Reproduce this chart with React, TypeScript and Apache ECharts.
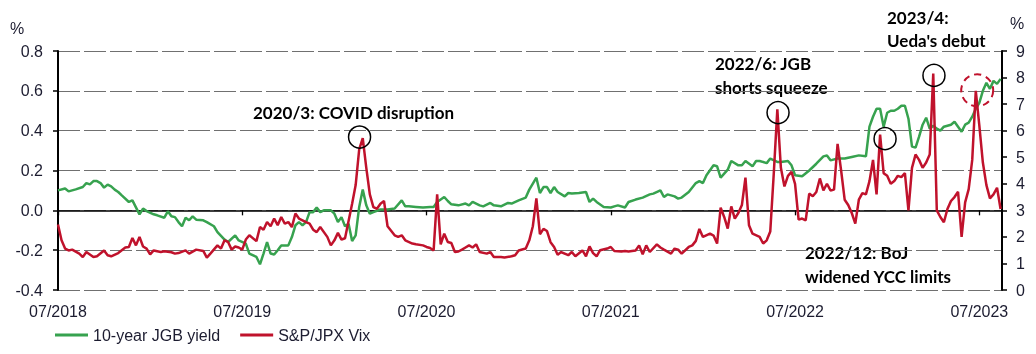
import React, { useEffect, useRef } from "react";
import * as echarts from "echarts";

// x unit: weeks after early July 2018 (52 per year)
const yearTicks = [0, 52, 104, 156, 208, 260];
const yearLabels = ["07/2018", "07/2019", "07/2020", "07/2021", "07/2022", "07/2023"];

const jgbWeeks = [
  0, 2, 3, 5, 7, 8, 9, 10, 11, 12, 13, 14, 15, 16, 17, 18, 20, 21, 23, 24, 25, 27, 28, 30, 31, 32, 33, 34, 35, 36,
  37, 38, 39, 41, 42, 44, 45, 47, 48, 50, 51, 53, 54, 56, 57, 58, 59, 60, 61, 62, 63, 65, 66, 67, 68, 69, 70, 71, 72,
  73, 74, 75, 77, 78, 79, 80, 81, 82, 83, 84, 85, 86, 87, 88, 89, 91, 93, 95, 97, 98, 99, 101, 103, 105, 106, 107, 109,
  110, 111, 113, 115, 116, 117, 119, 120, 122, 123, 125, 127, 128, 130, 132, 133, 135, 136, 137, 138, 139, 140, 141,
  143, 144, 145, 147, 149, 150, 151, 152, 154, 156, 157, 158, 160, 161, 163, 165, 167, 168, 170, 171, 172, 174, 175,
  176, 178, 180, 181, 182, 183, 185, 186, 187, 189, 190, 192, 193, 194, 196, 197, 198, 200, 201, 203, 204, 206, 207,
  208, 210, 212, 214, 216, 217, 218, 220, 222, 224, 226, 228, 229, 230, 231, 232, 233, 234, 235, 236, 237, 238, 239,
  240, 241, 242, 243, 244, 245, 246, 247, 248, 249, 250, 251, 252, 253, 254, 255, 256, 257, 258, 259, 260, 261, 262,
  263, 264, 265, 266,
];
const jgbYield = [
  0.1, 0.11, 0.095, 0.105, 0.117, 0.137, 0.13, 0.147, 0.147, 0.137, 0.114, 0.129, 0.12, 0.104, 0.092, 0.075, 0.042,
  0.05, -0.02, 0.009, -0.004, -0.02, -0.025, -0.037, -0.005, -0.03, -0.034, -0.059, -0.08, -0.037, -0.05, -0.03,
  -0.047, -0.05, -0.059, -0.08, -0.109, -0.147, -0.159, -0.126, -0.151, -0.167, -0.217, -0.234, -0.271, -0.217,
  -0.159, -0.217, -0.222, -0.2, -0.176, -0.176, -0.134, -0.075, -0.059, -0.075, -0.059, -0.009, -0.009, 0.014,
  -0.009, 0, 0, -0.017, -0.059, -0.034, -0.08, -0.067, -0.154, -0.126, 0.017, 0.104, 0.025, -0.017, -0.009, 0.004,
  0.004, 0.009, 0.05, 0.02, 0.02, 0.017, 0.014, 0.017, 0.017, 0.042, 0.067, 0.047, 0.03, 0.025, 0.034, 0.025, 0.042,
  0.025, 0.02, 0.037, 0.025, 0.02, 0.037, 0.034, 0.05, 0.064, 0.104, 0.164, 0.087, 0.117, 0.117, 0.087, 0.117, 0.092,
  0.07, 0.087, 0.084, 0.087, 0.092, 0.042, 0.059, 0.042, 0.017, 0.014, 0.02, 0.025, 0.014, 0.042, 0.054, 0.064, 0.08,
  0.084, 0.1, 0.067, 0.08, 0.07, 0.059, 0.064, 0.092, 0.137, 0.147, 0.137, 0.176, 0.226, 0.221, 0.164, 0.204, 0.248,
  0.226, 0.226, 0.248, 0.221, 0.248, 0.248, 0.237, 0.26, 0.243, 0.243, 0.248, 0.226, 0.176, 0.171, 0.2, 0.234, 0.271,
  0.275, 0.251, 0.26, 0.26, 0.268, 0.276, 0.271, 0.42, 0.47, 0.51, 0.51, 0.42, 0.49, 0.5, 0.5, 0.51, 0.525, 0.525,
  0.46, 0.32, 0.315, 0.37, 0.43, 0.465, 0.41, 0.425, 0.41, 0.4, 0.42, 0.425, 0.43, 0.445, 0.42, 0.395, 0.43, 0.44,
  0.47, 0.51, 0.54, 0.6, 0.64, 0.61, 0.65, 0.635, 0.66,
];

const vixWeeks = [
  0, 1, 2, 3, 4, 6, 7, 8, 10, 11, 13, 14, 15, 17, 19, 20, 21, 22, 23, 24, 25, 26, 27, 29, 30, 32, 33, 34, 36, 37, 39,
  41, 42, 43, 45, 46, 47, 48, 49, 50, 51, 52, 53, 54, 56, 57, 58, 59, 60, 61, 62, 63, 64, 65, 66, 67, 68, 70, 71, 72,
  73, 74, 76, 77, 78, 79, 80, 81, 82, 83, 84, 85, 86, 87, 88, 89, 90, 91, 92, 93, 95, 96, 97, 98, 100, 101, 103, 104,
  105, 106, 107, 108, 109, 110, 111, 112, 113, 114, 115, 116, 117, 118, 119, 121, 122, 123, 125, 126, 128, 129, 130,
  132, 133, 134, 135, 136, 137, 138, 139, 140, 141, 142, 144, 145, 146, 148, 149, 150, 151, 152, 153, 155, 156, 157,
  159, 160, 161, 163, 164, 165, 166, 167, 169, 170, 171, 173, 174, 175, 176, 178, 179, 180, 181, 182, 184, 185, 186,
  187, 188, 189, 190, 191, 192, 193, 194, 195, 196, 198, 199, 200, 201, 202, 203, 204, 205, 206, 207, 208, 209, 210,
  211, 212, 213, 214, 215, 216, 217, 218, 219, 220, 221, 222, 223, 224, 225, 226, 227, 228, 229, 230, 231, 232, 233,
  234, 235, 236, 237, 238, 239, 240, 241, 242, 243, 244, 245, 246, 247, 248, 249, 250, 251, 252, 253, 254, 255, 256,
  257, 258, 259, 260, 261, 262, 263, 264, 265, 266,
];
const vixLevel = [
  2.47, 1.87, 1.56, 1.49, 1.52, 1.37, 1.24, 1.43, 1.24, 1.27, 1.49, 1.31, 1.27, 1.39, 1.6, 1.62, 1.96, 1.68, 2.0, 1.64,
  1.56, 1.34, 1.49, 1.43, 1.46, 1.42, 1.37, 1.39, 1.49, 1.37, 1.52, 1.47, 1.22, 1.37, 1.68, 1.56, 1.87, 1.81, 1.52,
  1.64, 1.6, 1.52, 1.9, 2.06, 1.84, 2.37, 2.27, 2.56, 2.4, 2.69, 2.44, 2.75, 2.5, 2.56, 2.37, 2.88, 2.69, 2.56, 2.5,
  2.27, 2.18, 2.37, 2.0, 1.68, 1.87, 2.15, 1.9, 1.95, 2.6, 3.25, 3.95, 5.3, 5.72, 4.6, 3.6, 3.12, 3.06, 3.25, 3.35, 2.4,
  2.06, 2.0, 2.06, 1.87, 1.75, 1.72, 1.68, 1.62, 1.58, 1.49, 3.6, 1.72, 2.12, 1.81, 1.77, 1.43, 1.45, 1.52, 1.6, 1.68,
  1.6, 1.72, 1.43, 1.37, 1.43, 1.24, 1.24, 1.22, 1.27, 1.31, 1.49, 1.56, 1.87, 2.4, 3.45, 2.1, 2.3, 2.22, 1.8, 1.62,
  1.33, 1.43, 1.31, 1.43, 1.27, 1.49, 1.27, 1.64, 1.39, 1.27, 1.5, 1.56, 1.62, 1.47, 1.45, 1.47, 1.45, 1.49, 1.68,
  1.34, 1.68, 1.43, 1.72, 1.6, 1.52, 1.37, 1.56, 1.52, 1.37, 1.62, 1.68, 1.85, 2.3, 2.0, 2.12, 2.05, 1.75, 3.1, 2.75,
  2.31, 3.15, 2.69, 2.9, 3.2, 4.23, 2.44, 2.12, 2.0, 1.75, 1.87, 2.2, 4.4, 6.8, 4.6, 3.9, 4.3, 4.45, 4.0, 2.65, 2.69,
  2.62, 3.63, 3.53, 3.69, 4.2, 3.75, 4.0, 3.75, 3.78, 5.5, 4.5, 3.4, 3.2, 2.9, 2.5, 3.4, 3.65, 3.6, 4.1, 4.9, 3.6,
  5.85, 4.4, 4.3, 4.0, 4.1, 4.3, 4.25, 4.4, 3.0, 4.6, 5.1, 4.9, 4.6, 4.8, 5.1, 8.15, 3.0, 2.75, 2.55, 3.05, 3.35, 3.5,
  3.7, 2.0, 3.3, 3.8, 4.9, 7.5, 6.2, 4.8, 3.95, 3.45, 3.6, 3.85, 3.05,
];

// Event markers: [week, S&P/JPX Vix level]
const eventCircles = [
  [85.1, 5.76],
  [203.2, 6.68],
  [233.4, 5.7],
  [247.2, 8.08],
];
const uedaCircle = [259.4, 7.52];

const labelColor = "#1c1c30";
const tickFont = "'Liberation Sans', Arial, sans-serif";
const noteFont = "bold 17px Lato, 'Open Sans', sans-serif";

export default function App() {
  const ref = useRef<HTMLDivElement>(null);

  useEffect(() => {
    if (!ref.current) return;
    const chart = echarts.init(ref.current, undefined, { renderer: "svg" });
    const xMax = 266.4;
    const note = (text: string, x: number, y: number) => ({
      type: "text",
      x,
      y,
      style: { text, font: noteFont, fill: "#000", verticalAlign: "middle", align: "left" },
    });
    chart.setOption({
      animation: false,
      grid: { left: 58, right: 34, top: 51, bottom: 64, containLabel: false },
      legend: {
        left: 50,
        top: 322,
        itemWidth: 33,
        itemHeight: 3,
        itemGap: 20,
        icon: "rect",
        textStyle: { fontSize: 16, color: labelColor, fontFamily: tickFont },
        data: ["10-year JGB yield", "S&P/JPX Vix"],
      },
      xAxis: [
        {
          type: "value",
          min: 0,
          max: xMax,
          position: "bottom",
          axisLine: { show: false, onZero: false },
          axisTick: { show: false },
          splitLine: { show: false },
          axisLabel: {
            customValues: yearTicks,
            formatter: (v: number) => {
              const i = yearTicks.indexOf(Math.round(v));
              return i >= 0 ? yearLabels[i] : "";
            },
            fontSize: 16,
            color: labelColor,
            fontFamily: tickFont,
            margin: 13,
          },
        },
        {
          type: "value",
          min: 0,
          max: xMax,
          position: "top",
          axisLine: { show: true, onZero: true, onZeroAxisIndex: 0, lineStyle: { color: "#000", width: 1.5 } },
          axisTick: { show: true, inside: true, length: 5, customValues: yearTicks, lineStyle: { color: "#000", width: 1.3 } },
          axisLabel: { show: false },
          splitLine: { show: false },
        },
      ],
      yAxis: [
        {
          type: "value",
          min: -0.4,
          max: 0.8,
          interval: 0.2,
          position: "left",
          axisLine: { show: true, onZero: false, lineStyle: { color: "#000", width: 2 } },
          axisTick: { show: true, length: 5, lineStyle: { color: "#000", width: 1.5 } },
          axisLabel: {
            formatter: (v: number) => (Math.abs(v) < 1e-9 ? 0 : v).toFixed(1),
            fontSize: 16,
            color: labelColor,
            fontFamily: tickFont,
            margin: 15,
          },
          splitLine: { show: true, lineStyle: { color: "#707070", width: 1.2, type: [22, 4] } },
        },
        {
          type: "value",
          min: 0,
          max: 9,
          interval: 1,
          position: "right",
          axisLine: { show: true, onZero: false, lineStyle: { color: "#000", width: 2 } },
          axisTick: { show: true, length: 5, lineStyle: { color: "#000", width: 1.5 } },
          axisLabel: { fontSize: 16, color: labelColor, fontFamily: tickFont, margin: 14 },
          splitLine: { show: false },
        },
      ],
      series: [
        {
          name: "10-year JGB yield",
          type: "line",
          xAxisIndex: 0,
          yAxisIndex: 0,
          showSymbol: false,
          color: "#37a24f",
          lineStyle: { width: 2.5, color: "#37a24f" },
          data: jgbWeeks.map((w, i) => [w, jgbYield[i]]),
        },
        {
          name: "S&P/JPX Vix",
          type: "line",
          xAxisIndex: 0,
          yAxisIndex: 1,
          showSymbol: false,
          color: "#c0122c",
          lineStyle: { width: 2.5, color: "#c0122c" },
          data: vixWeeks.map((w, i) => [w, vixLevel[i]]),
          markPoint: {
            silent: true,
            label: { show: false },
            data: [
              ...eventCircles.map((c) => ({
                coord: c,
                symbol: "circle",
                symbolSize: 22,
                itemStyle: { color: "rgba(0,0,0,0)", borderColor: "#000", borderWidth: 1.5 },
              })),
              {
                coord: uedaCircle,
                symbol: "circle",
                symbolSize: 32,
                itemStyle: { color: "rgba(0,0,0,0)", borderColor: "#c0122c", borderWidth: 2, borderType: [7, 5] },
              },
            ],
          },
        },
      ],
      graphic: [
        { type: "text", x: 10, y: 28, style: { text: "%", font: `16px ${tickFont}`, fill: labelColor, verticalAlign: "middle" } },
        { type: "text", x: 1010, y: 23, style: { text: "%", font: `16px ${tickFont}`, fill: labelColor, verticalAlign: "middle" } },
        note("2020/3: COVID disruption", 253, 112),
        note("2022/6: JGB", 715, 63),
        note("shorts squeeze", 715, 87),
        note("2023/4:", 887, 17),
        note("Ueda's debut", 887, 40),
        note("2022/12: BoJ", 805, 252),
        note("widened YCC limits", 805, 276),
      ],
    });
    return () => chart.dispose();
  }, []);

  return <div ref={ref} style={{ position: "fixed", left: 0, top: 0, width: 1036, height: 354 }} />;
}
